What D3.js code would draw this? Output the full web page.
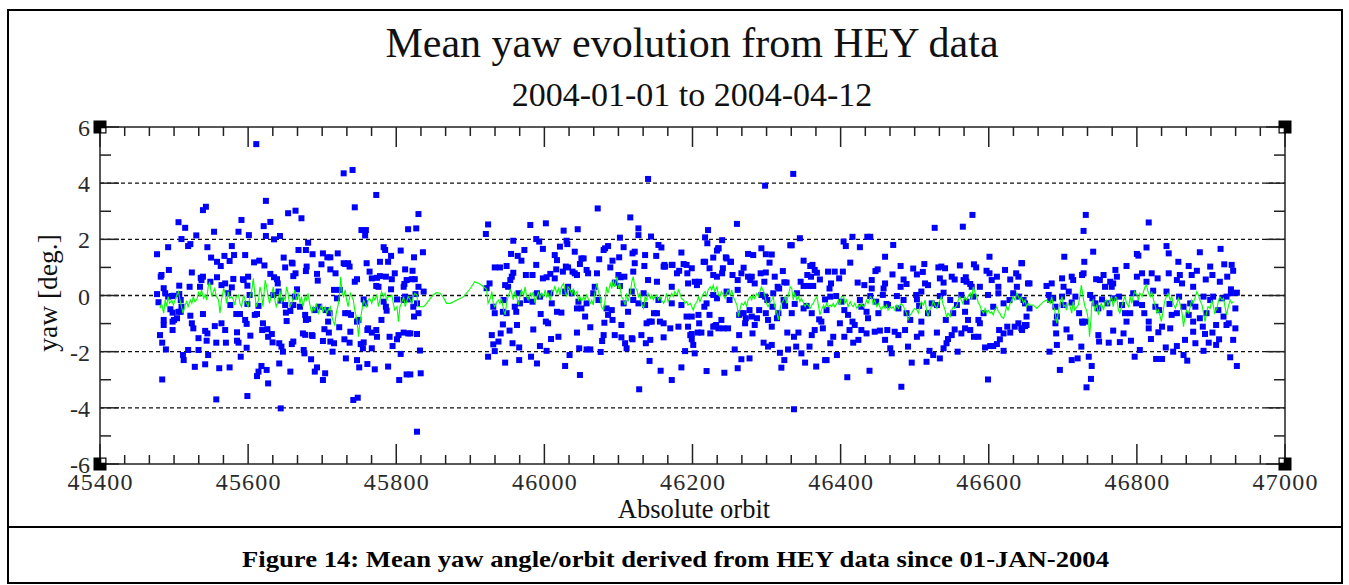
<!DOCTYPE html>
<html>
<head>
<meta charset="utf-8">
<script src="https://cdn.jsdelivr.net/npm/d3@7"></script>
<style>
body { margin: 0; background: #fff; }
text { font-family: "Liberation Serif", "Times New Roman", serif; fill: #111; }
</style>
</head>
<body>
<svg id="chart" width="1349" height="585"></svg>
<script>
// tick labels
const xTickValues = [45400, 45600, 45800, 46000, 46200, 46400, 46600, 46800, 47000];
const yTickValues = [-6, -4, -2, 0, 2, 4, 6];
const yGridValues = [-4, -2, 0, 2, 4];

// per orbit mean yaw [orbit, deg] - first block
const yawSeg1 = [[45611,5.39],[45729,4.35],[45741,4.47],[45773,3.58],[45744,3.14],[45624,3.37],[45539,3.04],[45543,3.16],[45506,2.61],[45515,2.41],[45654,2.93],[45664,3.02],[45672,2.75],[45591,2.69],[45621,2.47],[45630,2.62],[45554,2.27],[45587,2.27],[45601,2.15],[45624,2.12],[45635,2.0],[45643,2.12],[45830,2.9],[45816,2.36],[45827,2.39],[45510,2.01],[45522,1.83],[45519,1.76],[45530,2.14],[45492,1.72],[45477,1.47],[45545,1.72],[45578,1.76],[45581,1.44],[45596,1.44],[45550,1.35],[45558,1.2],[45563,1.05],[45568,1.41],[45575,1.23],[45608,1.18],[45615,1.24],[45622,1.07],[45648,1.35],[45659,1.17],[45668,1.62],[45681,1.88],[45678,1.62],[45687,1.47],[45701,1.5],[45707,1.36],[45711,1.36],[45721,1.5],[45783,1.72],[45785,1.62],[45793,1.41],[45806,1.6],[45824,1.36],[45836,1.54],[45753,2.33],[45759,2.33],[45758,2.14],[45729,1.15],[45735,1.15],[45778,1.2],[45789,1.2],
  [45493,0.91],[45482,0.67],[45483,0.73],[45524,0.82],[45536,0.63],[45539,0.67],[45558,0.65],[45569,0.43],[45564,0.37],[45580,0.59],[45593,0.58],[45600,0.67],[45630,0.77],[45635,0.65],[45639,0.58],[45640,0.43],[45650,1.0],[45660,1.14],[45664,0.79],[45661,0.69],[45679,1.03],[45678,0.87],[45693,0.77],[45694,0.53],[45699,1.11],[45711,0.93],[45718,0.79],[45731,1.12],[45737,1.03],[45747,0.58],[45744,0.49],[45760,1.15],[45764,0.85],[45767,0.61],[45774,0.63],[45773,0.34],[45778,0.69],[45786,0.67],[45776,0.31],[45798,0.79],[45812,0.93],[45822,0.88],[45814,0.55],[45821,0.58],[45825,0.58],[45794,0.58],[45793,0.22],[45811,0.41],[45810,0.31],[45837,0.14],[45830,0.31],
  [45477,0.05],[45479,-0.24],[45486,0.26],[45488,0.08],[45492,-0.04],[45497,-0.02],[45499,-0.01],[45507,0.35],[45507,0.05],[45509,-0.16],[45510,-0.4],[45509,-0.58],[45506,-0.58],[45495,-0.49],[45498,-0.61],[45486,-0.87],[45486,-1.05],[45481,-1.41],[45484,-1.68],[45489,-1.92],[45484,-2.99],[45498,-0.93],[45500,-0.87],[45504,-0.81],[45498,-1.23],[45522,-0.72],[45524,-0.99],[45526,-1.17],[45512,-2.12],[45513,-2.3],[45519,-1.94],[45528,-2.54],[45533,-1.94],[45533,-1.52],[45521,0.31],[45535,0.31],[45539,-0.66],[45537,0.55],[45549,0.49],[45555,-1.09],[45542,-1.26],[45545,-1.35],[45544,-1.61],[45546,-2.12],[45542,-2.45],[45557,-1.68],[45561,-2.59],[45557,-3.7],[45564,-0.99],[45569,-1.23],[45570,-1.68],[45575,-2.56],[45585,-1.31],[45585,-1.61],[45587,-1.68],[45590,-2.18],[45573,0.08],[45578,0.29],[45576,-0.34],[45584,-0.66],[45589,-0.66],[45594,0.55],[45599,0.35],[45602,0.02],[45599,-0.3],[45596,-0.87],[45598,-1.01],[45603,-1.43],[45598,-1.86],[45599,-3.58],[45609,-0.69],[45612,-0.66],[45614,-0.37],[45620,-0.99],[45619,-1.23],[45626,-1.2],[45632,-1.37],[45627,-1.47],[45633,-1.67],[45642,-1.7],[45645,-1.82],[45647,-2.0],[45642,-2.42],[45644,-4.02],[45614,-2.71],[45612,-2.87],[45618,-2.51],[45625,-2.65],[45627,-3.13],[45634,0.02],[45641,0.14],[45644,-0.18],[45650,-0.34],[45651,-0.61],[45652,-0.91],[45657,-0.55],[45661,-0.34],[45663,-0.04],[45666,0.22],[45657,-2.71],[45659,-1.73],[45661,-1.64],[45674,-1.35],[45677,-1.4],[45675,-1.94],[45676,-2.06],[45685,-2.27],[45686,-1.41],[45687,-1.44],[45690,-2.71],[45693,-2.56],[45701,-3.01],[45704,-2.77],[45670,-0.4],[45677,-0.69],[45678,-0.87],[45681,-0.84],[45690,-0.52],[45696,-0.4],[45705,-0.52],[45710,-0.63],[45703,-1.2],[45708,-0.93],[45709,-1.32],[45701,-1.62],[45711,-1.64],[45714,-2.0],[45716,-1.7],[45723,-1.13],[45730,-1.56],[45732,-2.24],[45737,-1.68],[45738,-1.29],[45716,0.2],[45720,-0.1],[45724,0.2],[45731,-0.63],[45735,-0.63],[45739,-0.69],[45742,-3.72],[45748,-3.64],[45747,-2.3],[45750,-2.56],[45752,-1.73],[45755,-1.88],[45756,-1.67],[45747,-0.93],[45749,-0.87],[45756,-0.14],[45758,-0.28],[45761,-1.23],[45762,-1.17],[45767,-1.32],[45773,-1.23],[45761,-2.44],[45771,-2.63],[45767,-1.88],[45774,-1.47],[45780,-0.87],[45787,-0.54],[45789,-2.53],[45791,-1.47],[45795,-1.8],[45803,-1.41],[45804,-3.01],[45806,-2.08],[45801,-1.56],[45810,-1.32],[45816,-1.35],[45819,-1.35],[45814,-2.81],[45819,-2.81],[45828,-1.37],[45833,-2.77],[45832,-1.96],[45828,-4.85],[45824,-0.75],[45830,-0.63],[45801,-0.14],[45810,-0.16],[45812,-0.04],[45818,-0.14],[45826,0.05],[45828,-0.28],[45823,-0.4],[45786,-0.4],[45783,-0.22]];

// second block
const yawSeg2 = [[46140,4.15],[46298,3.91],[46072,3.1],[46116,2.78],[45924,2.53],[45921,2.19],[45981,2.51],[46002,2.57],[46026,2.31],[46045,2.36],[46127,2.39],[46127,2.15],[46144,2.1],[46260,2.55],[46221,2.33],[46240,1.97],[46217,2.07],[46235,1.68],[46220,1.86],[45958,1.95],[45989,2.01],[45993,1.92],[45998,1.66],[46030,1.95],[46031,1.83],[46021,1.74],[46041,1.56],[45955,1.48],[45964,1.41],[45969,1.24],[45973,1.62],[45989,1.09],[46014,1.44],[46017,1.26],[46050,1.32],[46053,1.32],[46048,1.12],[46074,1.29],[46082,1.68],[46086,1.76],[46080,1.62],[46092,1.24],[46101,1.36],[46107,1.72],[46119,1.5],[46122,1.56],[46102,2.06],[46136,1.44],[46151,1.41],[46154,1.8],[46158,1.71],[46162,1.09],[46173,1.09],[46185,1.53],[46188,1.12],[46192,1.09],[46199,0.97],[46215,1.2],[46217,1.2],[46228,1.35],[46233,1.6],[46235,1.68],[46245,1.36],[46251,1.2],[46275,1.48],[46282,1.44],[46293,1.68],[46299,1.47],[46304,1.17],
  [45933,1.0],[45940,1.0],[45949,1.05],[45958,0.81],[45956,0.67],[45954,0.55],[45951,0.31],[45947,0.37],[45975,0.73],[45984,0.73],[45998,0.61],[46003,0.65],[46008,0.77],[46014,0.61],[46016,0.93],[46025,0.85],[46029,1.03],[46032,1.0],[46038,0.85],[46041,0.79],[46044,0.73],[46057,0.91],[46059,0.79],
  [46071,0.79],[46089,1.0],[46100,0.73],[46103,0.65],[46095,0.46],[46102,0.34],[46108,0.67],[46122,1.15],[46120,0.85],[46135,1.05],[46140,0.55],[46152,0.49],[46161,1.03],[46163,1.03],[46172,1.09],[46179,0.79],[46182,0.88],[46193,0.79],[46194,0.43],[46203,0.49],[46206,0.37],[46209,0.49],[46223,0.97],[46228,0.73],[46233,0.67],[46240,0.79],[46241,0.97],[46246,1.32],[46252,1.2],[46254,0.73],[46261,0.55],[46266,0.79],[46269,0.99],[46275,0.67],[46278,0.55],[46280,0.67],[46284,0.43],[46292,0.79],[46297,0.49],[46299,0.82],
  [45922,0.26],[45926,0.43],[45931,-0.4],[45933,-0.63],[45945,-0.16],[45944,-0.58],[45949,-0.63],[45960,-0.4],[45962,-0.58],[45967,-0.28],[45965,0.08],[45976,-0.16],[45984,-0.22],[45990,0.08],[45994,-0.04],[45995,-0.66],[46002,-0.93],[46005,-0.99],[46008,0.08],[46010,-0.28],[46017,-0.58],[46023,-0.61],[46028,0.14],[46032,0.31],[46037,0.08],[46046,-0.22],[46044,-0.46],[46050,-0.46],[46055,-0.75],[46057,-0.28],[46066,0.08],[46068,0.31],[46073,-0.16],[46084,-0.46],[46086,-0.69],[46081,-0.97],[46091,-0.52],[46092,-0.87],[46107,-0.28],[46113,-0.58],[46118,0.14],[46120,-0.16],[46127,-0.28],[46136,-0.34],[46134,0.08],[46138,-0.99],[46142,-0.93],[46145,-0.93],[46148,-0.63],[46152,-0.63],[46154,-0.16],[46156,-0.93],[46161,-0.99],[46170,-1.17],[46172,-0.28],[46172,0.31],[46181,-1.11],[46185,-0.34],[46192,-0.75],[46194,-1.11],[46199,-1.37],[46199,-0.75],[46208,-0.69],[46209,-0.99],[46216,-0.4],[46219,-0.28],[46223,-0.69],[46228,0.02],[46228,-1.11],[46232,-1.05],[46233,-0.1],[46239,-0.87],[46242,-1.17],[46246,0.14],[46250,-0.16],[46261,0.2],[46263,-0.69],[46266,-0.63],[46269,-0.63],[46272,-0.81],[46277,-0.52],[46280,-0.75],[46287,-0.81],[46290,-0.52],[46293,0.02],[46298,-0.04],[46299,-0.63],[46302,-0.87],[46301,-0.16],
  [45929,-1.41],[45931,-1.74],[45933,-1.98],[45924,-2.18],[45938,-1.64],[45941,-1.35],[45947,-2.39],[45944,-1.03],[45953,-1.25],[45957,-1.7],[45963,-1.05],[45966,-1.85],[45966,-2.3],[45982,-2.18],[45985,-1.21],[45990,-2.42],[45994,-1.8],[46003,-1.97],[46009,-1.55],[46019,-1.47],[46028,-2.51],[46034,-2.12],[46044,-1.32],[46047,-1.88],[46048,-2.83],[46057,-1.92],[46062,-1.13],[46062,-1.92],[46076,-2.01],[46078,-1.62],[46080,-1.41],[46095,-1.41],[46104,-1.05],[46104,-1.49],[46109,-1.7],[46111,-1.88],[46118,-1.52],[46119,-1.56],[46128,-3.34],[46131,-1.41],[46137,-1.7],[46143,-1.58],[46142,-2.33],[46157,-2.68],[46161,-1.49],[46172,-3.01],[46185,-2.56],[46190,-1.98],[46197,-1.41],[46199,-1.56],[46201,-1.76],[46203,-2.06],[46207,-1.32],[46212,-1.32],[46219,-2.69],[46224,-1.35],[46230,-1.09],[46235,-1.17],[46243,-2.75],[46248,-1.17],[46257,-1.92],[46261,-2.59],[46263,-1.41],[46266,-2.27],[46271,-0.99],[46277,-2.24],[46281,-1.35],[46284,-1.05],[46296,-1.68],[46302,-1.82],
  [46336,4.33],[46578,2.87],[46565,2.45],[46527,2.41],[46345,2.04],[46334,1.79],[46332,1.79],[46307,1.46],[46404,1.92],[46407,1.76],[46416,2.09],[46426,1.72],[46436,2.09],[46440,2.09],[46471,1.8],[46460,1.38],[46601,1.38],[46350,1.24],[46359,1.05],[46362,1.09],[46365,0.91],[46368,0.81],[46372,0.57],[46360,0.67],[46355,0.73],[46311,0.67],[46322,0.87],[46315,0.31],[46324,0.47],[46327,0.46],[46317,0.25],[46346,0.49],[46350,0.34],[46356,0.34],[46363,0.34],[46383,0.85],[46392,0.85],[46398,0.61],[46413,1.17],[46403,0.85],[46387,0.43],[46385,0.25],[46423,0.46],[46432,0.37],[46442,0.55],[46447,0.87],[46450,0.93],[46460,0.43],[46458,0.25],[46442,0.25],[46470,0.75],[46481,1.05],[46485,0.57],[46481,0.31],[46489,0.41],[46498,0.96],[46503,0.75],[46511,0.84],[46513,1.12],[46514,0.43],[46518,0.37],[46509,0.14],[46532,1.0],[46536,1.03],[46541,0.97],[46534,0.61],[46539,0.46],[46550,0.67],[46554,0.57],[46561,1.07],[46569,0.65],[46566,0.55],[46570,0.49],[46575,0.41],[46577,0.31],[46583,1.0],[46580,1.11],[46588,0.31],[46597,0.88],[46601,0.79],[46604,0.55],[46611,0.67],[46613,0.31],[46622,0.91],[46629,0.57],[46637,0.79],[46640,0.67],[46644,1.15],[46653,0.43],[46645,1.15],[46655,0.43],
  [46309,0.08],[46308,-0.4],[46314,-0.81],[46323,-0.16],[46325,-0.37],[46316,-0.63],[46341,0.08],[46338,-0.3],[46350,-0.46],[46334,-0.63],[46354,-0.37],[46361,-0.63],[46371,-0.85],[46374,-0.93],[46379,-0.14],[46381,-0.52],[46386,-0.04],[46394,-0.02],[46401,-0.22],[46405,-0.52],[46410,-0.69],[46416,-0.93],[46419,-1.05],[46426,-0.16],[46428,-0.4],[46435,-0.58],[46437,-0.81],[46440,-0.02],[46448,-0.22],[46457,0.02],[46462,-0.3],[46464,-0.34],[46451,-0.63],[46476,-0.02],[46478,-0.46],[46485,-0.16],[46489,-0.63],[46494,-0.87],[46502,0.02],[46503,-0.14],[46506,-0.37],[46509,-0.93],[46518,-0.63],[46523,-0.28],[46530,-0.34],[46534,-0.02],[46539,0.1],[46542,-0.87],[46548,-0.16],[46552,-0.63],[46557,-0.34],[46563,0.02],[46568,-0.58],[46572,-0.87],[46570,-0.22],[46579,-0.04],[46586,-0.87],[46588,-0.99],[46593,-0.63],[46599,0.02],[46606,-0.4],[46613,0.08],[46620,-0.28],[46628,-0.16],[46633,0.08],[46638,0.31],[46641,-0.04],[46649,-0.28],[46651,-1.05],[46655,-0.46],[46647,-0.16],[46645,-1.23],[46649,-1.05],[46651,-0.75],
  [46307,-1.11],[46307,-1.76],[46318,-2.04],[46324,-2.3],[46320,-2.57],[46329,-1.92],[46328,-1.32],[46337,-1.47],[46343,-1.32],[46347,-2.06],[46340,-1.82],[46352,-2.39],[46358,-1.82],[46361,-1.41],[46365,-1.23],[46367,-2.53],[46376,-1.17],[46379,-2.3],[46381,-2.3],[46386,-1.7],[46390,-1.47],[46395,-2.12],[46399,-0.99],[46405,-1.47],[46409,-2.91],[46412,-1.23],[46417,-1.68],[46424,-1.58],[46428,-1.23],[46435,-1.35],[46439,-2.68],[46446,-1.29],[46453,-1.25],[46460,-1.58],[46463,-1.23],[46467,-1.88],[46469,-2.06],[46473,-1.29],[46478,-1.41],[46482,-3.25],[46487,-1.23],[46491,-1.82],[46496,-2.39],[46503,-1.47],[46509,-1.35],[46516,-2.36],[46520,-1.97],[46525,-2.12],[46530,-1.32],[46534,-2.24],[46539,-1.88],[46543,-1.7],[46545,-1.55],[46550,-1.41],[46554,-1.21],[46558,-2.0],[46563,-1.35],[46568,-1.17],[46575,-1.23],[46580,-1.47],[46586,-1.47],[46595,-1.85],[46599,-2.99],[46602,-1.8],[46606,-1.8],[46611,-1.73],[46615,-1.56],[46620,-1.97],[46614,-1.23],[46620,-1.35],[46625,-1.11],[46629,-1.32],[46635,-1.11],[46640,-0.99],[46644,-1.17],[46649,-1.09],[46337,-4.05]];

// third block
const yawSeg3 = [[46731,2.87],[46728,2.3],[46816,2.6],[46741,1.56],[46702,1.38],[46729,1.2],[46726,0.73],[46728,0.79],[46678,0.34],[46685,0.43],[46699,0.61],[46701,0.31],[46712,0.67],[46714,0.55],[46745,0.58],[46750,0.55],[46755,0.73],[46764,0.49],[46771,0.91],[46773,0.67],[46768,0.43],[46757,0.31],[46766,0.31],[46786,1.05],[46800,1.48],[46802,1.42],[46813,1.71],[46800,0.67],[46807,0.79],[46813,0.49],[46820,0.79],[46828,0.61],[46840,1.76],[46843,1.5],[46843,0.79],[46856,1.2],[46858,0.73],[46861,0.43],[46854,0.55],[46870,1.05],[46874,0.73],[46881,0.88],[46876,0.31],[46885,1.54],[46893,0.57],[46899,1.03],[46902,0.73],[46913,1.66],[46918,1.11],[46922,0.67],[46928,1.09],[46930,0.88],[46912,0.49],[46927,0.22],
  [46681,0.02],[46683,-0.16],[46687,-0.1],[46690,-0.4],[46692,-0.75],[46690,-0.99],[46699,-0.04],[46701,-0.34],[46708,0.14],[46712,-0.25],[46717,-0.04],[46722,-0.63],[46726,-0.93],[46730,-0.93],[46737,0.02],[46740,-0.1],[46744,-0.28],[46748,-0.46],[46753,-0.14],[46760,-0.28],[46763,-0.63],[46768,-0.1],[46776,-0.04],[46780,-0.34],[46784,-0.63],[46786,-0.93],[46791,-0.63],[46795,0.08],[46799,-0.28],[46807,-0.34],[46810,-0.63],[46816,-0.93],[46822,0.17],[46825,-0.4],[46830,-0.52],[46834,-1.11],[46840,0.14],[46844,-0.3],[46847,-0.69],[46854,-0.63],[46857,-0.04],[46863,-0.4],[46870,-0.69],[46872,-0.28],[46879,-0.4],[46876,-0.93],[46885,-0.81],[46890,-0.04],[46894,-0.63],[46899,-0.16],[46903,-0.04],[46910,-0.52],[46915,-0.1],[46917,-0.75],[46921,-0.04],[46924,-0.99],[46927,0.08],[46933,-0.46],[46935,0.1],
  [46691,-1.35],[46692,-1.76],[46682,-2.0],[46696,-2.65],[46705,-1.21],[46710,-1.49],[46712,-2.3],[46720,-2.24],[46725,-1.82],[46727,-0.97],[46732,-3.27],[46735,-2.18],[46739,-2.51],[46738,-2.97],[46749,-1.64],[46748,-1.41],[46762,-1.68],[46768,-1.25],[46777,-1.66],[46782,-1.35],[46792,-1.61],[46797,-2.18],[46804,-1.94],[46816,-1.17],[46819,-1.55],[46826,-2.26],[46834,-2.26],[46829,-1.31],[46839,-1.85],[46845,-1.17],[46849,-2.0],[46854,-1.8],[46863,-2.12],[46868,-2.32],[46865,-1.58],[46876,-1.29],[46879,-1.7],[46889,-1.11],[46890,-1.97],[46892,-1.37],[46897,-1.68],[46902,-1.32],[46907,-1.05],[46907,-1.76],[46911,-1.56],[46921,-1.05],[46926,-2.2],[46930,-1.58],[46933,-1.17],[46935,-2.51]];

// running mean, green curve
const meanYaw = [[45481,-0.46],[45483,-0.28],[45486,-0.63],[45488,-0.16],[45490,-0.4],[45492,-0.04],[45494,-0.28],[45497,-0.16],[45499,-0.34],[45503,-0.04],[45506,0.14],[45508,-0.16],[45510,-0.4],[45512,-0.63],[45515,-0.34],[45517,-0.22],[45519,-0.4],[45522,-0.16],[45524,-0.28],[45526,-0.04],[45528,-0.22],[45531,-0.13],[45533,0.14],[45535,-0.04],[45537,0.2],[45540,-0.1],[45542,0.02],[45544,-0.16],[45546,0.31],[45548,0.49],[45551,-0.04],[45553,0.14],[45555,0.25],[45557,-0.04],[45560,-0.16],[45562,-0.63],[45564,-0.16],[45567,0.25],[45569,0.08],[45571,-0.28],[45573,0.14],[45575,-0.1],[45578,-0.04],[45580,-0.16],[45582,-0.34],[45584,-0.04],[45587,0.02],[45589,-0.28],[45591,-0.4],[45594,0.02],[45596,-0.16],[45598,-0.28],[45600,-0.4],[45602,-0.1],[45605,0.2],[45607,0.61],[45609,0.08],[45611,-0.4],[45614,-0.16],[45616,0.31],[45618,0.08],[45620,-0.4],[45623,0.55],[45625,0.31],[45627,-0.04],[45629,-0.28],[45632,0.08],[45634,0.31],[45636,-0.16],[45638,-0.4],[45641,-0.16],[45643,0.2],[45645,-0.28],[45648,-0.04],[45650,-0.16],[45652,0.31],[45654,0.08],[45656,-0.4],[45659,-0.28],[45661,-0.04],[45663,0.2],[45665,-0.16],[45668,0.08],[45670,-0.28],[45672,-0.04],[45674,-0.4],[45677,-0.04],[45679,-0.16],[45681,0.08],[45683,-0.28],[45686,-0.63],[45688,-0.4],[45690,-0.52],[45692,-0.28],[45695,-0.63],[45697,-0.46],[45699,-0.34],[45701,-0.58],[45704,-0.4],[45706,-0.63],[45708,-0.52],[45711,-0.4],[45713,-0.75],[45715,-0.93],[45717,-1.05],[45719,-0.63],[45722,-0.28],[45724,0.2],[45725,0.67],[45727,0.08],[45729,-0.04],[45731,0.2],[45733,-0.16],[45735,-0.4],[45738,0.08],[45740,-0.04],[45742,-0.16],[45744,-0.52],[45747,-0.87],[45749,-1.47],[45751,-0.93],[45753,-0.63],[45756,-0.16],[45758,-0.28],[45760,-0.4],[45762,-0.16],[45764,-0.1],[45767,-0.28],[45769,-0.04],[45771,-0.16],[45774,0.02],[45776,-0.4],[45778,-0.16],[45780,0.14],[45783,-0.04],[45785,0.08],[45787,-0.16],[45789,-0.04],[45792,-0.04],[45794,0.02],[45796,-0.28],[45798,-0.52],[45801,-0.4],[45803,-0.93],[45805,-0.4],[45807,-0.28],[45810,-0.04],[45812,-0.4],[45814,-0.22],[45816,-0.04],[45819,-0.16],[45821,-0.28],[45823,-0.04],[45825,0.08],[45828,0.02],[45829,-0.4],[45832,-0.4],[45837,-0.4],[45841,-0.28],[45846,-0.1],[45850,0.02],[45854,0.1],[45859,0.08],[45863,-0.04],[45868,-0.28],[45873,-0.28],[45882,-0.16],[45891,-0.04],[45900,0.25],[45906,0.49],[45913,0.41],[45918,0.31],[45922,0.22],[45924,-0.28],[45927,-0.1],[45929,0.14],[45931,-0.28],[45933,-0.4],[45936,-0.22],[45938,-0.16],[45940,-0.28],[45942,-0.1],[45945,-0.52],[45947,-0.69],[45949,-0.28],[45951,-0.04],[45954,0.2],[45956,0.08],[45958,-0.16],[45960,0.14],[45963,-0.1],[45965,-0.34],[45967,-0.04],[45969,0.2],[45972,0.02],[45974,0.31],[45976,-0.04],[45978,-0.16],[45981,0.08],[45983,-0.04],[45985,0.14],[45987,-0.22],[45990,-0.04],[45992,0.14],[45994,-0.1],[45996,0.08],[45999,-0.04],[46001,0.2],[46003,-0.04],[46005,0.08],[46008,-0.16],[46010,0.2],[46012,0.14],[46014,0.31],[46017,0.08],[46019,0.25],[46021,0.02],[46023,0.31],[46026,0.43],[46028,0.14],[46030,-0.04],[46032,0.31],[46035,0.2],[46037,0.02],[46039,0.25],[46041,0.02],[46044,0.14],[46046,-0.16],[46048,-0.04],[46050,-0.22],[46053,-0.04],[46055,-0.16],[46057,0.02],[46059,-0.1],[46062,-0.28],[46064,-0.16],[46066,-0.34],[46068,0.08],[46071,0.43],[46073,0.14],[46075,-0.04],[46077,-0.4],[46080,-0.52],[46082,-0.16],[46084,0.31],[46086,0.08],[46089,0.43],[46091,0.25],[46093,0.55],[46095,0.31],[46098,0.67],[46100,0.25],[46102,0.43],[46104,-0.04],[46107,-0.16],[46109,-0.34],[46111,0.08],[46113,-0.22],[46116,0.08],[46118,0.49],[46120,0.67],[46122,0.31],[46125,0.2],[46127,-0.04],[46129,0.08],[46131,-0.28],[46134,-0.46],[46136,-0.04],[46138,-0.16],[46140,0.08],[46143,-0.1],[46145,0.02],[46147,-0.16],[46149,-0.04],[46152,0.02],[46154,-0.16],[46156,-0.04],[46158,-0.16],[46161,-0.28],[46163,-0.16],[46165,0.08],[46167,-0.22],[46170,-0.04],[46172,0.08],[46174,-0.04],[46176,0.14],[46179,0.02],[46181,0.2],[46183,0.08],[46185,-0.1],[46188,-0.16],[46190,-0.28],[46192,-0.22],[46194,-0.34],[46197,-0.28],[46199,-0.4],[46201,-0.52],[46203,-0.34],[46206,-0.22],[46208,-0.04],[46210,-0.22],[46212,-0.1],[46215,0.08],[46217,0.14],[46219,-0.04],[46221,0.2],[46224,0.31],[46226,0.2],[46228,0.37],[46230,0.14],[46233,0.31],[46235,0.02],[46237,-0.04],[46239,0.14],[46242,0.02],[46244,-0.1],[46246,0.08],[46248,0.2],[46251,0.02],[46253,0.2],[46255,-0.04],[46257,-0.16],[46260,-0.34],[46262,-0.75],[46264,-0.52],[46266,-0.28],[46269,-0.34],[46271,-0.22],[46273,-0.4],[46275,-0.16],[46278,-0.04],[46280,-0.16],[46282,0.02],[46284,-0.1],[46287,0.08],[46289,-0.04],[46291,0.14],[46293,0.31],[46296,0.14],[46298,-0.04],[46300,-0.28],[46302,-0.4],[46305,-0.22],[46307,-0.16],[46309,-0.04],[46311,-0.4],[46314,-0.63],[46316,-0.87],[46318,-0.52],[46320,-0.28],[46323,-0.16],[46325,-0.04],[46327,-0.28],[46329,-0.04],[46332,0.31],[46334,0.25],[46336,-0.16],[46338,0.08],[46341,-0.16],[46343,-0.04],[46345,-0.22],[46347,-0.1],[46350,-0.28],[46352,-0.4],[46354,-0.28],[46356,-0.34],[46359,-0.46],[46361,-0.34],[46363,-0.28],[46365,-0.16],[46368,-0.04],[46370,-0.34],[46372,-0.69],[46374,-0.52],[46377,-0.34],[46379,-0.46],[46381,-0.28],[46383,-0.4],[46386,-0.34],[46388,-0.4],[46390,-0.28],[46392,-0.4],[46395,-0.28],[46397,-0.16],[46399,-0.34],[46401,-0.04],[46404,-0.04],[46406,-0.28],[46408,-0.16],[46410,-0.4],[46413,-0.22],[46415,-0.34],[46417,-0.4],[46419,-0.28],[46422,-0.46],[46424,-0.34],[46426,-0.4],[46428,-0.28],[46431,-0.4],[46433,-0.34],[46435,-0.16],[46437,-0.28],[46440,-0.04],[46442,-0.1],[46444,-0.34],[46446,-0.16],[46449,-0.4],[46451,-0.28],[46453,-0.4],[46455,-0.52],[46458,-0.34],[46460,-0.46],[46462,-0.34],[46464,-0.52],[46467,-0.4],[46469,-0.46],[46471,-0.4],[46473,-0.52],[46476,-0.34],[46478,-0.46],[46480,-0.34],[46482,-0.28],[46485,-0.4],[46487,-0.52],[46489,-0.63],[46491,-0.87],[46494,-0.69],[46496,-0.63],[46498,-0.52],[46500,-0.46],[46503,-0.52],[46505,-0.63],[46507,-0.4],[46509,-0.22],[46512,-0.34],[46514,-0.16],[46516,-0.52],[46518,-0.75],[46521,-0.46],[46523,-0.4],[46525,-0.16],[46527,-0.34],[46530,-0.46],[46532,-0.28],[46534,-0.16],[46536,-0.04],[46538,-0.28],[46541,-0.52],[46543,-0.75],[46545,-0.63],[46548,-0.75],[46550,-0.52],[46552,-0.4],[46554,-0.46],[46557,-0.34],[46559,-0.16],[46561,-0.04],[46563,-0.16],[46565,-0.28],[46568,-0.04],[46570,-0.16],[46572,-0.04],[46575,0.08],[46577,-0.16],[46579,0.31],[46581,0.14],[46584,-0.04],[46586,-0.28],[46588,-0.34],[46590,-0.52],[46593,-0.63],[46595,-0.46],[46597,-0.63],[46599,-0.52],[46602,-0.63],[46604,-0.58],[46606,-0.69],[46608,-0.52],[46611,-0.4],[46613,-0.58],[46615,-0.63],[46617,-0.75],[46620,-0.81],[46622,-0.63],[46624,-0.4],[46626,-0.52],[46629,-0.28],[46631,-0.16],[46633,-0.04],[46635,-0.16],[46638,0.08],[46640,-0.04],[46642,-0.16],[46644,-0.04],[46647,-0.28],[46649,-0.16],[46651,-0.4],[46653,-0.28],[46655,-0.34],[46660,-0.34],[46665,-0.46],[46669,-0.34],[46674,-0.22],[46678,-0.16],[46683,-0.28],[46685,-0.04],[46687,-0.34],[46689,-0.52],[46692,-0.99],[46694,-0.58],[46696,-0.28],[46699,-0.04],[46701,-0.4],[46703,-0.34],[46705,-0.52],[46707,-0.28],[46710,-0.4],[46712,-0.63],[46714,-0.22],[46716,-0.52],[46719,-0.4],[46721,-0.34],[46723,-0.04],[46725,0.37],[46728,-0.16],[46730,-0.4],[46732,-0.52],[46735,-0.93],[46736,-1.47],[46738,-0.87],[46739,-0.28],[46741,-0.16],[46743,-0.52],[46746,-0.34],[46748,-0.69],[46750,-0.4],[46752,-0.28],[46755,-0.52],[46757,-0.22],[46759,-0.16],[46761,-0.34],[46764,-0.16],[46766,-0.04],[46768,-0.4],[46771,-0.04],[46773,-0.1],[46775,-0.52],[46777,-0.63],[46780,-0.34],[46782,-0.16],[46784,-0.04],[46786,-0.28],[46789,-0.4],[46791,-0.04],[46793,-0.28],[46795,-0.04],[46797,0.14],[46800,0.02],[46802,-0.16],[46804,0.08],[46807,-0.04],[46809,0.14],[46811,0.31],[46813,0.37],[46815,0.14],[46818,-0.04],[46820,0.14],[46822,-0.1],[46825,-0.4],[46827,-0.63],[46829,-0.52],[46831,-0.69],[46833,-0.93],[46836,-0.46],[46838,-0.16],[46840,-0.04],[46842,0.08],[46845,-0.16],[46847,-0.04],[46849,-0.28],[46852,-0.46],[46854,-0.28],[46856,-0.1],[46858,-0.28],[46861,-0.63],[46863,-1.11],[46865,-0.75],[46867,-0.52],[46870,-0.63],[46872,-0.4],[46874,-0.16],[46876,-0.28],[46879,-0.04],[46881,0.14],[46883,0.02],[46885,-0.16],[46888,-0.34],[46890,-0.63],[46892,-0.93],[46894,-0.63],[46896,-0.4],[46899,-0.46],[46901,-0.16],[46903,-0.34],[46905,-0.63],[46908,-0.46],[46910,-0.22],[46912,-0.04],[46915,-0.16],[46917,-0.1],[46919,-0.4],[46921,-0.69],[46924,-0.34],[46926,-0.16],[46928,-0.28],[46930,-0.22]];

const svg = d3.select('#chart');
const pL = 100, pR = 1285, pT = 127, pB = 464;

const x = d3.scaleLinear().domain([45400, 47000]).range([pL, pR]);
const y = d3.scaleLinear().domain([-6, 6]).range([pB, pT]);

// outer frame + caption box
svg.append('rect').attr('x', 8).attr('y', 10).attr('width', 1334).attr('height', 573)
    .attr('fill', 'none').attr('stroke', '#000').attr('stroke-width', 2);
svg.append('line').attr('x1', 8).attr('x2', 1342).attr('y1', 527).attr('y2', 527)
    .attr('stroke', '#000').attr('stroke-width', 2);

// dashed grid
svg.append('g').selectAll('line').data(yGridValues).join('line')
    .attr('x1', pL).attr('x2', pR)
    .attr('y1', d => y(d)).attr('y2', d => y(d))
    .attr('stroke', '#111').attr('stroke-width', 1.3)
    .attr('stroke-dasharray', '4,3');

// points
const allYaw = yawSeg1.concat(yawSeg2, yawSeg3);
const sz = 6;
svg.append('g').selectAll('rect').data(allYaw).join('rect')
    .attr('x', d => x(d[0]) - sz / 2)
    .attr('y', d => y(d[1]) - sz / 2)
    .attr('width', sz).attr('height', sz)
    .attr('fill', '#0000ff');

// mean curve
svg.append('path').datum(meanYaw)
    .attr('fill', 'none').attr('stroke', '#00ff00').attr('stroke-width', 1.1)
    .attr('d', d3.line().x(d => x(d[0])).y(d => y(d[1])));

// axes: all four sides drawn by hand with ticks
let ax = svg.append('g').attr('stroke', '#222').attr('stroke-width', 1.5);
ax.append('rect').attr('x', pL).attr('y', pT)
    .attr('width', pR - pL).attr('height', pB - pT).attr('fill', 'none');

let xMinor = d3.range(0, 49).map(i => 45400 + i * 200 / 6);
xMinor.forEach(function(v, i) {
    let len = i % 6 === 0 ? 20 : 9;
    ax.append('line').attr('x1', x(v)).attr('x2', x(v)).attr('y1', pT).attr('y2', pT + len);
    ax.append('line').attr('x1', x(v)).attr('x2', x(v)).attr('y1', pB).attr('y2', pB - len);
});
d3.range(-6, 7).forEach(function(v) {
    let len = v % 2 === 0 ? 19 : 11;
    ax.append('line').attr('x1', pL).attr('x2', pL + len).attr('y1', y(v)).attr('y2', y(v));
    ax.append('line').attr('x1', pR).attr('x2', pR - len).attr('y1', y(v)).attr('y2', y(v));
});

// corner blocks
[[pL, pT, 1, 1], [pR, pT, -1, 1], [pL, pB, 1, -1], [pR, pB, -1, -1]].forEach(function(c) {
    svg.append('rect').attr('x', c[0] - 6.5).attr('y', c[1] - 6.5)
        .attr('width', 13).attr('height', 13).attr('fill', '#000');
    let wx = c[2] > 0 ? c[0] + 1.3 : c[0] - 5.3;
    let wy = c[3] > 0 ? c[1] + 1.3 : c[1] - 5.3;
    svg.append('rect').attr('x', wx).attr('y', wy).attr('width', 4).attr('height', 4).attr('fill', '#fff');
});

// tick labels
svg.append('g').selectAll('text').data(xTickValues).join('text')
    .attr('x', d => x(d) + 0.6).attr('y', 490)
    .attr('text-anchor', 'middle')
    .style('font-size', '24px').style('letter-spacing', '1.2px')
    .style('fill', '#2a2a2a')
    .text(d => d);
svg.append('g').selectAll('text').data(yTickValues).join('text')
    .attr('x', 90).attr('y', d => y(d) + 9)
    .attr('text-anchor', 'end')
    .style('font-size', '24px')
    .style('fill', '#2a2a2a')
    .text(d => d);

// titles
svg.append('text').attr('x', 692).attr('y', 57).attr('text-anchor', 'middle')
    .style('font-size', '42px').text('Mean yaw evolution from HEY data');
svg.append('text').attr('x', 692).attr('y', 106).attr('text-anchor', 'middle')
    .style('font-size', '34px').text('2004-01-01 to 2004-04-12');
svg.append('text').attr('x', 694).attr('y', 518).attr('text-anchor', 'middle')
    .style('font-size', '26.5px').text('Absolute orbit');
svg.append('text').attr('transform', 'translate(57,293) rotate(-90)')
    .attr('text-anchor', 'middle')
    .style('font-size', '27.5px').text('yaw [deg.]');

svg.append('text').attr('x', 675.5).attr('y', 567).attr('text-anchor', 'middle')
    .attr('textLength', 867).attr('lengthAdjust', 'spacingAndGlyphs')
    .style('font-size', '23.5px').style('font-weight', 'bold').style('fill', '#000')
    .text('Figure 14: Mean yaw angle/orbit derived from HEY data since 01-JAN-2004');
</script>
</body>
</html>
